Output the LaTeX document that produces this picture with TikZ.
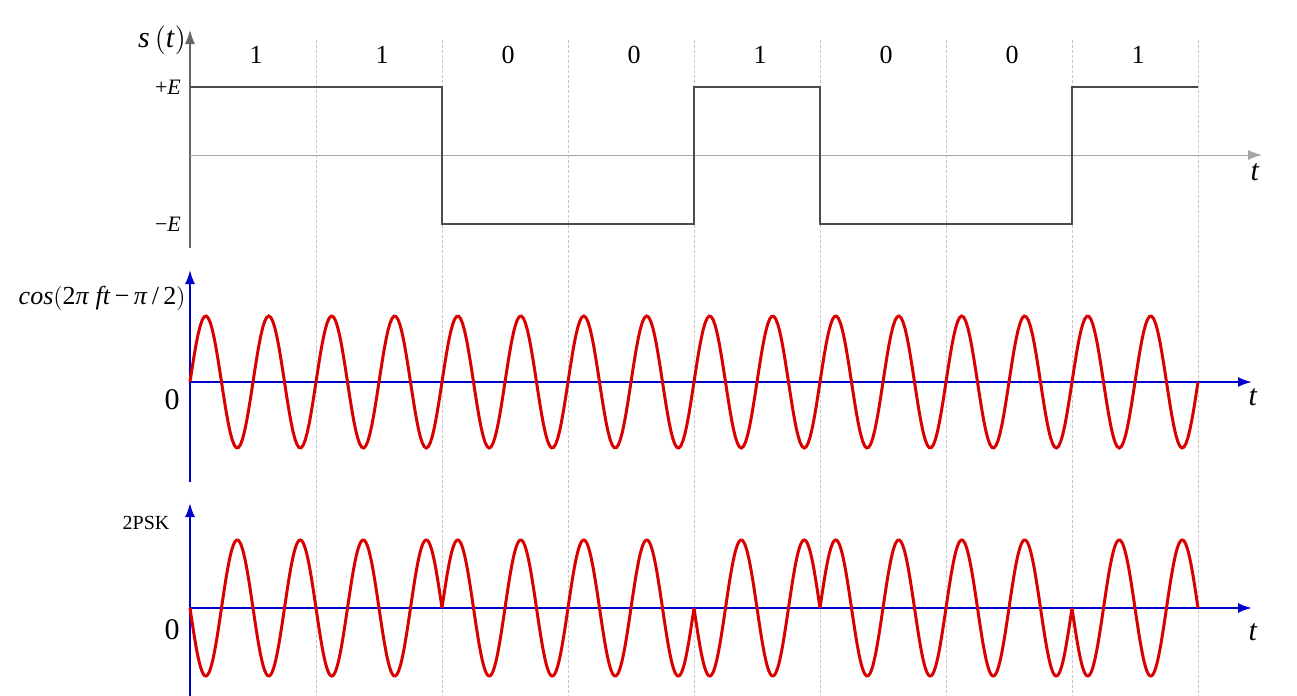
\documentclass[tikz,border=0pt]{standalone}
\usepackage{fontspec}
\setmainfont{Liberation Serif}
\usetikzlibrary{arrows.meta}
\begin{document}
\begin{tikzpicture}[x=0.5pt,y=-0.5pt,
  grid/.style={gray!45,dash pattern=on 1.5pt off 1pt,line width=0.3pt},
  gax/.style={gray!80!black,line width=0.6pt,-{Latex[length=7pt,width=5pt]}},
  bax/.style={blue!80!black,line width=1pt,-{Latex[length=7pt,width=5pt]}},
  sig/.style={black!70,line width=1.3pt},
  wave/.style={red!85!black,line width=1.5pt},
  lab/.style={font=\fontsize{13}{13}\selectfont},
  big/.style={font=\fontsize{15}{15}\selectfont},
  bit/.style={font=\fontsize{13}{13}\selectfont}]
\useasboundingbox (0,0) rectangle (1297,696);
% grid lines
\foreach \i in {1,...,8}{
  \draw[grid] ({190+126*\i},40) -- ({190+126*\i},696);
}
% top axes
\coordinate (ta0) at (190,248); \coordinate (ta1) at (190,30);
\coordinate (tt0) at (190,155); \coordinate (tt1) at (1262,155);
\draw[gax] (ta0) -- (ta1);
\draw[gray!70,line width=0.5pt,-{Latex[length=7pt,width=5pt]}] (tt0) -- (tt1);
\node[big] (st) at (162,40) {\textit{s}\,$\bigl($\textit{t}$\bigr)$};
\node[font=\fontsize{11}{11}\selectfont] (tp) at (168,87) {+\textit{E}};
\node[font=\fontsize{11}{11}\selectfont] (tm) at (168,224) {\textminus\textit{E}};
\node[big] (tl) at (1255,172) {\textit{t}};
\foreach \b [count=\i from 0] in {1,1,0,0,1,0,0,1}{
  \node[bit] (b\i) at ({256+126*\i},55) {\b};
}
% square signal
\draw[sig] (190,87) -- (442,87) -- (442,224) -- (694,224) -- (694,87) -- (820,87) -- (820,224) -- (1072,224) -- (1072,87) -- (1198,87);
% middle
\coordinate (ma0) at (190,482); \coordinate (ma1) at (190,270);
\coordinate (mt0) at (190,382); \coordinate (mt1) at (1252,382);
\draw[bax] (ma0) -- (ma1);
\draw[bax] (mt0) -- (mt1);
\node[lab,anchor=east,inner sep=0pt] (mc) at (186,298) {\textit{cos}$\bigl($2\textit{π} \textit{ft}\,\textminus\,\textit{π}\,/\,2$\bigr)$};
\node[big] (m0) at (172,400) {0};
\node[big] (mtl) at (1253,397) {\textit{t}};
\draw[wave] plot[domain=190:1198,samples=500] (\x,{382-66*sin((\x-190)/63*360)});
% bottom
\coordinate (ba0) at (190,696); \coordinate (ba1) at (190,503);
\coordinate (bt0) at (190,608); \coordinate (bt1) at (1252,608);
\draw[bax] (ba0) -- (ba1);
\draw[bax] (bt0) -- (bt1);
\node[font=\fontsize{10}{10}\selectfont] (bl) at (146,523) {2PSK};
\node[big] (b0l) at (172,630) {0};
\node[big] (btl) at (1253,632) {\textit{t}};
\foreach \s [count=\i from 0] in {1,1,-1,-1,1,-1,-1,1}{
  \draw[wave] plot[domain={190+126*\i}:{316+126*\i},samples=120] (\x,{608+\s*68*sin((\x-190)/63*360)});
}
\end{tikzpicture}
\end{document}
